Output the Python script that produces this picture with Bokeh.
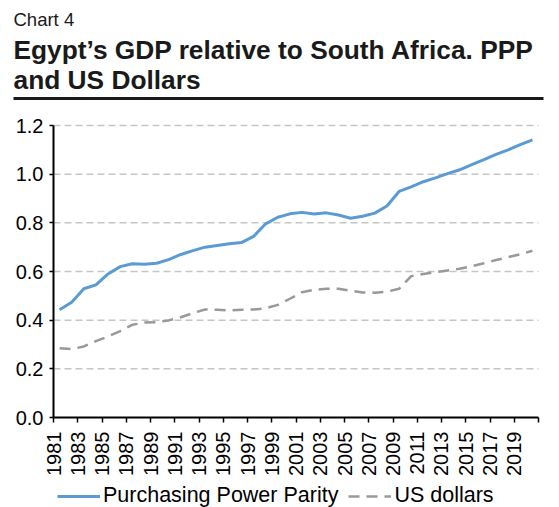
from bokeh.plotting import figure
from bokeh.models import Range1d, FixedTicker, Legend, LegendItem
from bokeh.core.properties import value
from bokeh.embed import file_html
from bokeh.resources import INLINE

years = list(range(1981, 2021))
ppp = [0.443, 0.474, 0.529, 0.545, 0.590, 0.620, 0.632, 0.630, 0.634, 0.649,
       0.670, 0.686, 0.700, 0.707, 0.714, 0.719, 0.744, 0.796, 0.823, 0.837,
       0.843, 0.836, 0.841, 0.832, 0.819, 0.827, 0.840, 0.869, 0.929, 0.948,
       0.969, 0.985, 1.002, 1.018, 1.039, 1.060, 1.081, 1.100, 1.121, 1.141]
usd = [0.285, 0.281, 0.292, 0.314, 0.333, 0.355, 0.381, 0.390, 0.392, 0.399,
       0.412, 0.429, 0.444, 0.443, 0.440, 0.443, 0.444, 0.449, 0.463, 0.488,
       0.515, 0.525, 0.529, 0.529, 0.521, 0.514, 0.513, 0.517, 0.529, 0.581,
       0.590, 0.597, 0.604, 0.611, 0.622, 0.634, 0.647, 0.659, 0.671, 0.685]
y_ticks = [0.0, 0.2, 0.4, 0.6, 0.8, 1.0, 1.2]
x_tick_labels = [str(y) for y in range(1981, 2021, 2)]

header_small = "Chart 4"
header_lines = ["Egypt\u2019s GDP relative to South Africa. PPP", "and US Dollars"]
series_names = ["Purchasing Power Parity", "US dollars"]

FONT = "Liberation Sans"
W, H = 559, 507
# plot area placement in page pixels
FL, FR, FT, FB = 53, 538, 125, 417
X0, X1, Y0, Y1 = 1980.5, 2020.5, 0.0, 1.2
KX = (X1 - X0) / (FR - FL)
KY = (Y1 - Y0) / (FB - FT)


def px_to_x(px):
    return X0 + (px - FL) * KX


def py_to_y(py):
    return Y0 + (FB - py) * KY


p = figure(width=W, height=H,
           x_range=Range1d(px_to_x(0), px_to_x(W)),
           y_range=Range1d(py_to_y(H), py_to_y(0)),
           toolbar_location=None, output_backend="svg",
           min_border=0, min_border_left=0, min_border_right=0,
           min_border_top=0, min_border_bottom=0)
p.outline_line_color = None
p.xgrid.visible = False
p.ygrid.visible = False

# gridlines across the plot area
p.segment(x0=[X0] * len(y_ticks[1:]), y0=y_ticks[1:], x1=[X1] * len(y_ticks[1:]),
          y1=y_ticks[1:], line_color="#c6c6c6", line_width=1.5, line_dash="7 4")

r1 = p.line(years, ppp, line_color="#5B9BD5", line_width=3)
r2 = p.line(years, usd, line_color="#999999", line_width=2.5, line_dash="11 7")

xt = [1980.5 + 2 * k for k in range(21)]
p.xaxis.ticker = FixedTicker(ticks=xt)
over = {xt[k]: x_tick_labels[k] for k in range(len(x_tick_labels))}
over[xt[-1]] = ""
p.xaxis.major_label_overrides = over
p.xaxis.major_label_orientation = 1.5707963
p.xaxis.fixed_location = Y0
p.xaxis.bounds = (X0, X1)
p.yaxis.ticker = FixedTicker(ticks=y_ticks)
p.yaxis.major_label_overrides = {t: f"{t:.1f}" for t in y_ticks}
p.yaxis.fixed_location = X0
p.yaxis.bounds = (Y0, Y1)

for ax in (p.xaxis[0], p.yaxis[0]):
    ax.axis_line_color = "black"
    ax.axis_line_width = 2
    ax.major_tick_line_color = "black"
    ax.major_tick_line_width = 1.5
    ax.major_tick_in = 0
    ax.minor_tick_line_color = None
    ax.major_label_text_font = FONT
    ax.major_label_text_font_size = "20px"
    ax.major_label_text_color = "black"
p.xaxis.major_tick_out = 5
p.xaxis.major_label_standoff = 9
p.yaxis.major_tick_out = 4
p.yaxis.major_label_standoff = 6

# header
p.text(x=[px_to_x(13)], y=[py_to_y(25.7 - 7)], text=[header_small],
       text_font=value(FONT), text_font_size="18.5px", text_color="#1a1a1a",
       text_baseline="alphabetic", text_align="left")
p.text(x=[px_to_x(13)] * 2, y=[py_to_y(57.3 - 8), py_to_y(87.3 - 8)], text=header_lines,
       text_font=value(FONT), text_font_size="26.3px", text_font_style="bold",
       text_color="#1a1a1a", text_baseline="alphabetic", text_align="left")
p.segment(x0=[px_to_x(13)], y0=[py_to_y(98)], x1=[px_to_x(543)], y1=[py_to_y(98)],
          line_color="#1a1a1a", line_width=3)

legend = Legend(items=[LegendItem(label=series_names[0], renderers=[r1]),
                       LegendItem(label=series_names[1], renderers=[r2])],
                orientation="horizontal", location=(57, -1),
                label_text_font=FONT, label_text_font_size="21.5px",
                label_text_color="black",
                glyph_width=43, glyph_height=20, label_height=20, label_standoff=3,
                spacing=10, border_line_color=None, background_fill_alpha=0,
                margin=0, padding=0)
p.add_layout(legend, "center")

open("out.html", "w").write(file_html(p, INLINE))
